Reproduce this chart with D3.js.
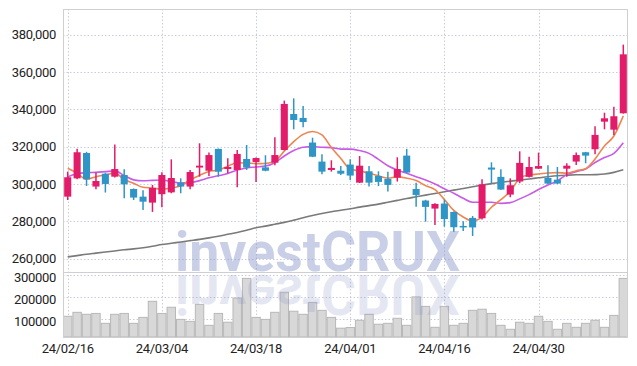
<!DOCTYPE html>
<html><head><meta charset="utf-8">
<script src="https://cdn.jsdelivr.net/npm/d3@7"></script>
<style>
html,body{margin:0;padding:0;background:#fff;}
svg{display:block;}
text{font-family:Roboto,"Noto Sans",sans-serif;}
</style></head>
<body>
<svg id="chart" width="637" height="366"></svg>
<script>
const dates = ["24/02/16","24/02/19","24/02/20","24/02/21","24/02/22","24/02/23","24/02/26","24/02/27","24/02/28","24/02/29",
"24/03/04","24/03/05","24/03/06","24/03/07","24/03/08","24/03/11","24/03/12","24/03/13","24/03/14","24/03/15",
"24/03/18","24/03/19","24/03/20","24/03/21","24/03/22","24/03/25","24/03/26","24/03/27","24/03/28","24/03/29",
"24/04/01","24/04/02","24/04/03","24/04/04","24/04/05","24/04/08","24/04/09","24/04/11","24/04/12","24/04/15",
"24/04/16","24/04/17","24/04/18","24/04/19","24/04/22","24/04/23","24/04/24","24/04/25","24/04/26","24/04/29",
"24/04/30","24/05/02","24/05/03","24/05/07","24/05/08","24/05/09","24/05/10","24/05/13","24/05/14","24/05/16"];

const openP = [293200,303000,316600,298600,305500,303900,304800,297300,293200,290000,
294500,295500,300700,298600,308800,307100,318800,308000,307500,313400,
311800,308900,311400,318200,337500,335400,322200,312000,307500,307100,
310400,300700,306800,304300,302700,303400,315200,297300,291100,286800,
289500,285000,277500,281800,281600,308800,303800,294300,301300,303800,
308200,303200,302300,308200,312000,317000,318600,333400,329100,337900];
const highP = [306600,318900,317200,306100,306000,321200,307900,297600,296600,299500,
306300,313200,303000,307500,321800,316800,319000,313800,318200,320900,
314200,315400,325000,344700,345900,341800,324800,315900,312700,309600,
313200,315000,309600,306800,306600,314300,318800,300700,291500,289600,
291600,285200,280000,282800,302500,311600,307900,303000,317500,314600,
316800,310000,309100,311100,316800,317200,330900,338200,341400,374700];
const lowP = [291400,302500,298900,297100,295400,303500,292300,291400,286100,285000,
287500,295000,295000,297100,303900,304300,303900,305700,298200,307500,
301100,306800,310000,318000,329300,330400,314400,305200,306600,304800,
302100,300500,298600,298900,295900,301300,305900,287800,279800,278000,
277100,274400,274800,272100,281000,300400,296800,292900,300400,303500,
308000,300000,300000,303800,310200,311100,315900,329300,326300,337700];
const closeP = [303600,317000,302500,301600,300000,308000,299800,292700,290500,297900,
304800,303200,298600,306400,309800,315500,306600,309100,316100,308800,
313900,307100,315500,342900,334300,333200,314600,306600,308600,305500,
304500,309800,300700,301100,299500,308000,306100,294100,287700,289300,
281200,276800,276700,276700,299800,307700,297000,299300,311300,309100,
309600,300200,300200,309800,315500,315200,326300,335200,336300,369500];
const volume = [114000,132000,123000,127000,82000,123000,127000,82000,109000,182000,
127000,155000,100000,91000,168000,73000,127000,87000,197000,286000,
109000,100000,132000,223000,137000,123000,177000,141000,109000,60000,
63000,96000,123000,78000,82000,105000,73000,202000,159000,64000,
159000,73000,82000,141000,146000,127000,73000,55000,87000,82000,
114000,91000,55000,82000,64000,82000,96000,64000,118000,286000];
const maShort = [308400,305700,302500,303900,304900,305800,302400,300400,298200,297800,
297100,297800,299000,302200,304600,306700,307400,309500,311400,311200,
310900,311000,312300,317600,322700,326600,328100,326300,319500,313700,
308000,307000,305800,304300,303100,303800,303100,301800,299100,297000,
291700,285800,282300,280100,282200,287500,291600,296100,303000,304900,
305300,305900,306100,305800,307100,308200,313400,320400,325700,336500];
const maMid = [303900,305500,306000,306200,306600,307000,304500,302200,301700,301900,
302100,301300,300500,300700,301800,303300,304400,305600,307500,308600,
309100,309600,311400,315000,317900,319700,320000,319700,319500,318700,
318700,317900,316400,313200,309800,307500,305700,303900,302100,300000,
297400,295000,292300,290200,290200,290200,289600,290000,292000,294300,
297000,299400,301600,305000,306600,308000,311500,314200,316400,322100];
const maLong = [260900,261600,262300,262900,263500,264100,264700,265200,265800,266600,
267500,268200,268900,269600,270300,271100,272000,273000,274000,275200,
276500,277400,278400,279400,280600,281900,283100,284200,285100,285900,
286700,287600,288400,289200,290200,291200,292200,293100,294000,294900,
295800,296700,297600,298500,299400,300200,300900,301500,302100,302700,
303300,303900,304400,304700,304900,304900,305000,305300,306200,307600];
const priceTicks = [260000,280000,300000,320000,340000,360000,380000];
const volumeTicks = [100000,200000,300000];
const xTickLabels = ["24/02/16","24/03/04","24/03/18","24/04/01","24/04/16","24/04/30"];
const watermark = "investCRUX";

const svg = d3.select("#chart");
const L = 63, R = 628, pTop = 9, pBot = 272, vTop = 272, vBot = 337;

const x = d3.scaleBand().domain(dates).range([L, R]).paddingInner(0.25).paddingOuter(0.125);
const xv = d3.scaleBand().domain(dates).range([L, R]).padding(0);
const cx = d => x(d) + x.bandwidth() / 2;
const y = d3.scaleLinear().domain([252800, 393800]).range([pBot, pTop]);
const yv = d3.scaleLinear().domain([20000, 315000]).range([vBot, vTop]);

const grid = svg.append("g").attr("stroke", "#c9cbe0").attr("stroke-dasharray", "1.5,2").attr("stroke-width", 1);
priceTicks.forEach(t => grid.append("line").attr("x1", L).attr("x2", R).attr("y1", Math.round(y(t)) + 0.5).attr("y2", Math.round(y(t)) + 0.5));
volumeTicks.forEach(t => grid.append("line").attr("x1", L).attr("x2", R).attr("y1", Math.round(yv(t)) + 0.5).attr("y2", Math.round(yv(t)) + 0.5));
xTickLabels.forEach(t => grid.append("line").attr("x1", Math.round(cx(t)) + 0.5).attr("x2", Math.round(cx(t)) + 0.5).attr("y1", pTop).attr("y2", vBot));

// volume bars
svg.append("g").selectAll("rect").data(dates).join("rect")
  .attr("x", d => xv(d) + 0.5).attr("width", xv.bandwidth() - 1)
  .attr("y", (d, i) => yv(volume[i])).attr("height", (d, i) => vBot - yv(volume[i]))
  .attr("fill", "#d8d8d8").attr("stroke", "#b8b8b8").attr("stroke-width", 1);

// watermark with reflection
const wm = svg.append("g");
wm.append("text").text(watermark).attr("x", 175).attr("y", 271)
  .attr("textLength", 285).attr("lengthAdjust", "spacingAndGlyphs")
  .attr("font-family", "DejaVu Sans").attr("font-weight", "bold").attr("font-size", 56)
  .attr("fill", "#8894c8").attr("fill-opacity", 0.45);
wm.append("text").text(watermark).attr("x", 175).attr("y", -275)
  .attr("transform", "scale(1,-1)")
  .attr("textLength", 285).attr("lengthAdjust", "spacingAndGlyphs")
  .attr("font-family", "DejaVu Sans").attr("font-weight", "bold").attr("font-size", 56)
  .attr("fill", "#8894c8").attr("fill-opacity", 0.22);

// frame
svg.append("rect").attr("x", L + 0.5).attr("y", pTop + 0.5).attr("width", R - L - 1).attr("height", vBot - pTop)
  .attr("fill", "none").attr("stroke", "#cfcfcf");
svg.append("line").attr("x1", L).attr("x2", R).attr("y1", pBot + 0.5).attr("y2", pBot + 0.5).attr("stroke", "#cfcfcf");

// moving averages
const line = arr => d3.line().x((d, i) => cx(dates[i])).y(d => y(d)).curve(d3.curveMonotoneX)(arr);
svg.append("path").attr("d", line(maLong)).attr("fill", "none").attr("stroke", "#7a7a7a").attr("stroke-width", 1.6);
svg.append("path").attr("d", line(maMid)).attr("fill", "none").attr("stroke", "#c85ae6").attr("stroke-width", 1.6);
svg.append("path").attr("d", line(maShort)).attr("fill", "none").attr("stroke", "#ee8550").attr("stroke-width", 1.6);

// candles
const up = "#e31c6a", down = "#2f95c6";
const cg = svg.append("g").selectAll("g").data(dates).join("g");
cg.append("line").attr("x1", d => cx(d)).attr("x2", d => cx(d))
  .attr("y1", (d, i) => y(highP[i])).attr("y2", (d, i) => y(lowP[i]))
  .attr("stroke", (d, i) => closeP[i] >= openP[i] ? up : down).attr("stroke-width", 1.5);
cg.append("rect").attr("x", d => x(d)).attr("width", x.bandwidth())
  .attr("y", (d, i) => y(Math.max(openP[i], closeP[i])))
  .attr("height", (d, i) => Math.max(1.5, Math.abs(y(openP[i]) - y(closeP[i]))))
  .attr("fill", (d, i) => closeP[i] >= openP[i] ? up : down);

// axes
const ax = svg.append("g").attr("transform", `translate(${L},0)`)
  .call(d3.axisLeft(y).tickValues(priceTicks).tickFormat(d3.format(",")).tickSize(0).tickPadding(7));
ax.select(".domain").remove();
const axv = svg.append("g").attr("transform", `translate(${L},0)`)
  .call(d3.axisLeft(yv).tickValues(volumeTicks).tickFormat(d3.format("d")).tickSize(0).tickPadding(7));
axv.select(".domain").remove();
axv.selectAll(".tick text").attr("dy", "0.5em");
const axx = svg.append("g").attr("transform", `translate(0,${vBot})`)
  .call(d3.axisBottom(x).tickValues(xTickLabels).tickSize(0).tickPadding(7));
axx.select(".domain").remove();
svg.selectAll(".tick text").attr("font-family", "Roboto").attr("font-size", 13).attr("fill", "#222").attr("letter-spacing", "-0.3px");
</script>
</body></html>
